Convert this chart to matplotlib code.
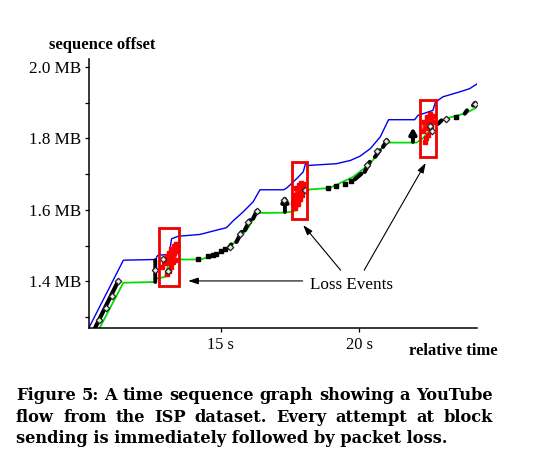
import matplotlib
matplotlib.use("Agg")
import matplotlib.pyplot as plt
from matplotlib.patches import Rectangle

# ---------------- data (seconds, MB) ----------------
blue_t = [10.26, 11.49, 12.67, 12.70, 12.75, 13.15, 13.20, 13.23, 13.47, 14.25, 14.85,
          15.21, 15.45, 15.81, 16.17, 16.42, 17.28, 17.40, 17.74, 17.98, 18.07, 18.15,
          19.18, 19.68, 20.03, 20.40, 20.76, 21.06, 22.00, 22.12, 22.66, 22.75, 23.02,
          23.63, 23.99, 24.27]
blue_y = [1.272, 1.459, 1.461, 1.470, 1.473, 1.475, 1.505, 1.519, 1.526, 1.531, 1.543,
          1.550, 1.569, 1.594, 1.622, 1.656, 1.656, 1.662, 1.687, 1.706, 1.731, 1.724,
          1.729, 1.738, 1.750, 1.771, 1.804, 1.852, 1.852, 1.864, 1.878, 1.901, 1.916,
          1.930, 1.939, 1.953]

green_t = [10.65, 11.49, 12.64, 12.69, 12.99, 13.05, 13.17, 14.25, 14.85, 15.45, 15.94,
           16.30, 17.28, 17.50, 17.74, 17.86, 18.04, 18.94, 19.78, 20.40, 20.88, 21.00,
           22.07, 22.30, 22.55, 22.70, 23.27, 23.87, 24.23]
green_y = [1.272, 1.396, 1.398, 1.408, 1.412, 1.430, 1.461, 1.461, 1.473, 1.505, 1.543,
           1.591, 1.592, 1.594, 1.599, 1.627, 1.656, 1.661, 1.692, 1.729, 1.780, 1.788,
           1.788, 1.800, 1.822, 1.840, 1.858, 1.871, 1.886]

# packet bursts: start/end time and start/end offset
burst_t0 = [10.47, 15.30, 15.57, 15.87, 16.17, 19.84, 20.20, 20.57, 20.86, 22.85, 23.81, 24.11]
burst_t1 = [11.30, 15.38, 15.76, 16.06, 16.30, 20.08, 20.38, 20.74, 21.01, 22.97, 23.89, 24.18]
burst_y0 = [1.270, 1.494, 1.510, 1.543, 1.575, 1.685, 1.706, 1.748, 1.776, 1.841, 1.869, 1.892]
burst_y1 = [1.400, 1.503, 1.538, 1.571, 1.596, 1.701, 1.734, 1.766, 1.794, 1.850, 1.878, 1.899]

# isolated packets
dot_t = [14.19, 14.55, 14.71, 14.85, 15.03, 15.15, 18.88, 19.18, 19.48, 19.72, 23.51]
dot_y = [1.463, 1.470, 1.473, 1.476, 1.485, 1.490, 1.661, 1.667, 1.673, 1.681, 1.860]

# SACK diamonds
dia_t = [10.62, 10.85, 11.07, 11.30, 12.63, 12.93, 13.11, 15.33, 15.69, 15.99, 16.30,
         17.28, 18.04, 20.30, 20.65, 20.98, 22.57, 22.62, 23.15, 24.17]
dia_y = [1.293, 1.326, 1.359, 1.400, 1.431, 1.463, 1.429, 1.496, 1.531, 1.566, 1.596,
         1.628, 1.655, 1.724, 1.765, 1.792, 1.834, 1.820, 1.855, 1.897]

# block-send bars (time, bottom, top, arrow head shown)
bar_t = [12.64, 17.32, 21.94]
bar_lo = [1.398, 1.594, 1.790]
bar_hi = [1.459, 1.641, 1.830]
bar_head = [False, True, True]

# retransmissions (red)
red1_t = [12.90, 12.95, 13.00, 13.05, 13.10, 13.12, 13.18, 13.22, 13.25, 13.30, 13.33,
          13.38, 13.40, 13.44, 13.35, 13.28, 13.20, 13.15, 13.05]
red1_y = [1.440, 1.460, 1.450, 1.470, 1.455, 1.480, 1.465, 1.490, 1.470, 1.500, 1.480,
          1.505, 1.485, 1.500, 1.460, 1.455, 1.440, 1.430, 1.420]
red2_t = [17.60, 17.65, 17.70, 17.72, 17.78, 17.82, 17.86, 17.90, 17.95, 17.98, 17.92,
          17.85, 17.78, 17.70, 17.66]
red2_y = [1.620, 1.640, 1.630, 1.660, 1.645, 1.670, 1.650, 1.675, 1.660, 1.672, 1.640,
          1.630, 1.615, 1.605, 1.610]
red3_t = [22.30, 22.35, 22.40, 22.45, 22.50, 22.55, 22.60, 22.65, 22.68, 22.58, 22.50,
          22.42, 22.38]
red3_y = [1.820, 1.845, 1.830, 1.860, 1.845, 1.868, 1.850, 1.862, 1.845, 1.830, 1.810,
          1.800, 1.790]

# loss-event boxes (t0, t1, y0, y1)
box_t0 = [12.79, 17.58, 22.21]
box_t1 = [13.51, 18.12, 22.76]
box_y0 = [1.386, 1.573, 1.747]
box_y1 = [1.549, 1.734, 1.906]

yticks = [1.4, 1.6, 1.8, 2.0]
yticklabels = ["1.4 MB", "1.6 MB", "1.8 MB", "2.0 MB"]
yminor = [1.3, 1.5, 1.7, 1.9]
xticks = [15, 20]
xticklabels = ["15 s", "20 s"]

caption = [
    "Figure 5: A time sequence graph showing a YouTube",
    "flow from the ISP dataset. Every attempt at block",
    "sending is immediately followed by packet loss.",
]

# ---------------- figure ----------------
W, H = 553, 472
fig = plt.figure(figsize=(W / 100, H / 100), dpi=100)
fig.patch.set_facecolor("white")
ax = fig.add_axes([89.3 / W, 1 - 328.3 / H, (477.5 - 89.3) / W, (328.3 - 59.3) / H])
ax.set_xlim(10.26, 24.27)
ax.set_ylim(1.2685, 2.021)
for s in ("top", "right"):
    ax.spines[s].set_visible(False)
for s in ("left", "bottom"):
    ax.spines[s].set_linewidth(1.1)

serif = "Liberation Serif"
ax.set_yticks(yticks)
ax.set_yticklabels(yticklabels, fontfamily=serif, fontsize=12.3)
ax.set_yticks(yminor, minor=True)
ax.set_xticks(xticks)
ax.set_xticklabels(xticklabels, fontfamily=serif, fontsize=11.8)
ax.tick_params(axis="both", which="both", direction="out", length=3, width=0.9, pad=3)

ax.plot(blue_t, blue_y, color="#0000ee", lw=1.0, zorder=2)
ax.plot(green_t, green_y, color="#00dd00", lw=1.3, zorder=2)

for t0, t1, y0, y1 in zip(burst_t0, burst_t1, burst_y0, burst_y1):
    ax.plot([t0, t1], [y0, y1], color="black", lw=3.0, solid_capstyle="round", zorder=3)
ax.plot(dot_t, dot_y, "s", color="black", ms=2.6, zorder=3)

for t, lo, hi, head in zip(bar_t, bar_lo, bar_hi, bar_head):
    style = "-|>,head_length=0.35,head_width=0.2" if head else "-"
    ax.annotate("", xy=(t, hi), xytext=(t, lo),
                arrowprops=dict(arrowstyle=style, lw=2.8, color="black",
                                shrinkA=0, shrinkB=0), zorder=3)

for rt, ry in ((red1_t, red1_y), (red2_t, red2_y), (red3_t, red3_y)):
    ax.plot(rt, ry, color="#ff2020", lw=1.6, zorder=4)
    ax.plot(rt, ry, "s", color="#ff0000", ms=2.5, zorder=4)

ax.plot(dia_t, dia_y, "D", mfc="#e8e8e8", mec="#222222", mew=0.9, ms=3.3, zorder=5)

for t0, t1, y0, y1 in zip(box_t0, box_t1, box_y0, box_y1):
    ax.add_patch(Rectangle((t0, y0), t1 - t0, y1 - y0, fill=False, ec="#ee0000",
                           lw=2.0, zorder=6))

# annotations
ax.text(19.73, 1.389, "Loss Events", fontfamily=serif, fontsize=12.3, ha="center",
        va="center", zorder=7)
arrow = dict(arrowstyle="-|>,head_length=0.6,head_width=0.2", lw=0.8, color="black",
             shrinkA=0, shrinkB=0)
ax.annotate("", xy=(13.83, 1.401), xytext=(17.96, 1.401), arrowprops=arrow)
ax.annotate("", xy=(17.98, 1.557), xytext=(19.33, 1.431), arrowprops=arrow)
ax.annotate("", xy=(22.40, 1.731), xytext=(20.18, 1.431), arrowprops=arrow)

fig.text(49 / W, 1 - 45 / H, "sequence offset", fontfamily=serif, fontweight="bold",
         fontsize=12, ha="left", va="center")
fig.text(409.3 / W, 1 - 350.7 / H, "relative time", fontfamily=serif, fontweight="bold",
         fontsize=12, ha="left", va="center")

# justified caption, font size chosen so the last (ragged) line has its width
fig.canvas.draw()
renderer = fig.canvas.get_renderer()
left_px, right_px, last_right_px = 16.0, 492.7, 446.7
baselines = [400.0, 421.7, 443.3]
cap_family = "DejaVu Serif"
probe = fig.text(0, 0, caption[-1], fontfamily=cap_family, fontweight="bold", fontsize=12)
pw = probe.get_window_extent(renderer).width
probe.remove()
cap_size = 12 * (last_right_px - left_px) / pw
cap_font = dict(fontfamily=cap_family, fontweight="bold", fontsize=cap_size)
for i, (line, base) in enumerate(zip(caption, baselines)):
    y = 1 - base / H
    if i == len(caption) - 1:
        fig.text(left_px / W, y, line, ha="left", va="baseline", **cap_font)
        continue
    words = line.split(" ")
    objs = [fig.text(0, y, w_, ha="left", va="baseline", **cap_font) for w_ in words]
    widths = [o.get_window_extent(renderer).width for o in objs]
    gap = (right_px - left_px - sum(widths)) / (len(words) - 1)
    x = left_px
    for o, wd in zip(objs, widths):
        o.set_x(x / W)
        x += wd + gap

fig.savefig("out.png", dpi=100, facecolor="white")
